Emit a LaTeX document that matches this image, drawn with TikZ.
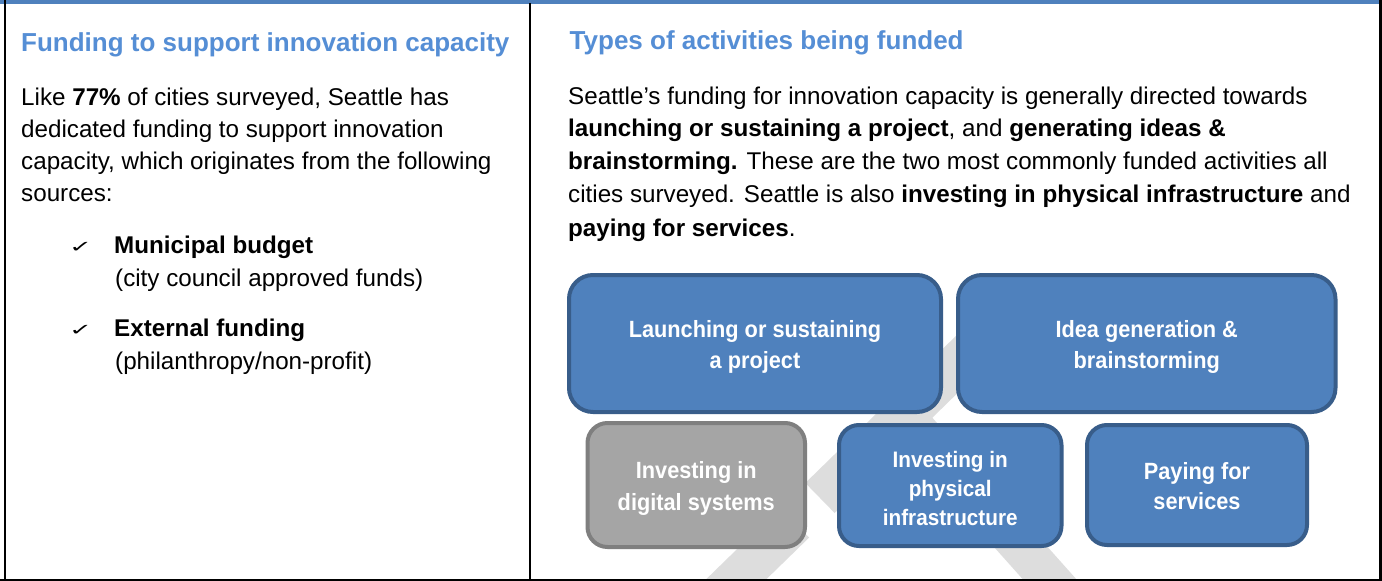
\documentclass[tikz,border=0pt]{standalone}
\usepackage{fontspec}
\setmainfont{Liberation Sans}
\newfontfamily\boxfont{Liberation Sans}[FakeStretch=0.925]
\newfontfamily\symfont{DejaVu Sans}
\definecolor{headblue}{HTML}{558ED5}
\definecolor{topblue}{HTML}{4F81BD}
\definecolor{boxfill}{HTML}{4F81BD}
\definecolor{boxedge}{HTML}{385D8A}
\definecolor{greyfill}{HTML}{A5A5A5}
\definecolor{greyedge}{HTML}{7F7F7F}
\definecolor{wmgrey}{HTML}{DDDDDD}
\tikzset{
  head/.style={anchor=base west, inner sep=0pt, text=headblue,
    font=\fontsize{26}{30}\selectfont\bfseries},
  body/.style={anchor=base west, inner sep=0pt, text=black,
    font=\fontsize{24.2}{32}\selectfont},
  tick/.style={anchor=base west, inner sep=0pt, text=black,
    font=\symfont\fontsize{19}{20}\selectfont},
  bluebox/.style={draw=boxedge, fill=boxfill, line width=4pt,
    rounded corners=24pt, inner sep=0pt},
  smallbox/.style={bluebox, rounded corners=20pt},
  greybox/.style={smallbox, draw=greyedge, fill=greyfill},
  boxtext/.style={align=center, text=white, inner sep=0pt,
    font=\boxfont\bfseries\fontsize{23.5}{31}\selectfont},
  frameline/.style={draw=black, line width=2.5pt},
  wmbar/.style={draw=wmgrey, line width=42pt, line cap=butt}
}
\begin{document}
\begin{tikzpicture}[x=1pt,y=-1pt]
\useasboundingbox (0,0) rectangle (1382,581);
\fill[white] (0,0) rectangle (1382,581);

% watermark (faint "DRAFT" letters behind the boxes)
\begin{scope}
  \clip (531.5,4) rectangle (1379,579);
  \draw[wmbar] (820,498) -- (988,334);
  \draw[wmbar, line width=40pt] (904,416) -- (1110,647);
  \draw[wmbar] (794.5,522.5) -- (680,634);
\end{scope}

% frame
\fill[topblue] (0,0) rectangle (1382,3.5);
\draw[frameline] (5,0) -- (5,581);
\draw[frameline] (530,3) -- (530,581);
\draw[frameline] (1380.7,0) -- (1380.7,581);
\draw[frameline, line width=2pt] (0,580) -- (1382,580);

% left panel
\node[head] (lhead) at (21,51.8) {Funding to support innovation capacity};
\node[body] (lb1) at (21,105) {Like \textbf{77\%} of cities surveyed, Seattle has};
\node[body] (lb2) at (21,137.2) {dedicated funding to support innovation};
\node[body] (lb3) at (21,169.4) {capacity, which originates from the following};
\node[body] (lb4) at (21,201.6) {sources:};
\node[tick] (t1) at (69,252) {\scalebox{1.45}[0.85]{✓}};
\node[body] (m1) at (114,253) {\textbf{Municipal budget}};
\node[body] (m2) at (115,286) {(city council approved funds)};
\node[tick] (t2) at (69,335.5) {\scalebox{1.45}[0.85]{✓}};
\node[body] (e1) at (114,336.5) {\textbf{External funding}};
\node[body] (e2) at (115,369.5) {(philanthropy/non-profit)};

% right panel
\node[head] (rhead) at (569.5,49.8) {Types of activities being funded};
\node[body] (rb1) at (568,104) {Seattle’s funding for innovation capacity is generally directed towards};
\node[body] (rb2) at (568,136.8) {\textbf{launching or sustaining a project}, and \textbf{generating ideas \&}};
\node[body] (rb3) at (568,169.6) {\textbf{brainstorming.} These are the two most commonly funded activities all};
\node[body] (rb4) at (568,202.4) {cities surveyed. Seattle is also \textbf{investing in physical infrastructure} and};
\node[body] (rb5) at (568,236) {\textbf{paying for services}.};

% activity boxes
\node[bluebox, minimum width=372pt, minimum height=137pt] (launch) at (755,343.5) {};
\node[boxtext] (launchT) at ([yshift=-3.5pt]launch.center)
  {Launching or sustaining\\a project};
\node[bluebox, minimum width=377.5pt, minimum height=137pt] (idea) at (1146.75,343.5) {};
\node[boxtext] (ideaT) at ([yshift=-3.5pt]idea.center)
  {Idea generation \&\\brainstorming};
\node[greybox, minimum width=217.5pt, minimum height=124pt] (digital) at (696.25,485) {};
\node[boxtext, font=\boxfont\bfseries\fontsize{23.5}{32}\selectfont] (digitalT)
  at ([yshift=-3pt]digital.center) {Investing in\\digital systems};
\node[smallbox, minimum width=222.5pt, minimum height=121pt] (phys) at (950.25,485.5) {};
\node[boxtext, font=\boxfont\bfseries\fontsize{22.4}{29}\selectfont] (physT)
  at ([yshift=-3pt]phys.center) {Investing in\\physical\\infrastructure};
\node[smallbox, minimum width=220pt, minimum height=120pt] (pay) at (1197,485) {};
\node[boxtext, font=\boxfont\bfseries\fontsize{23.5}{30}\selectfont] (payT)
  at ([yshift=-1pt]pay.center) {Paying for\\services};
\end{tikzpicture}
\end{document}
